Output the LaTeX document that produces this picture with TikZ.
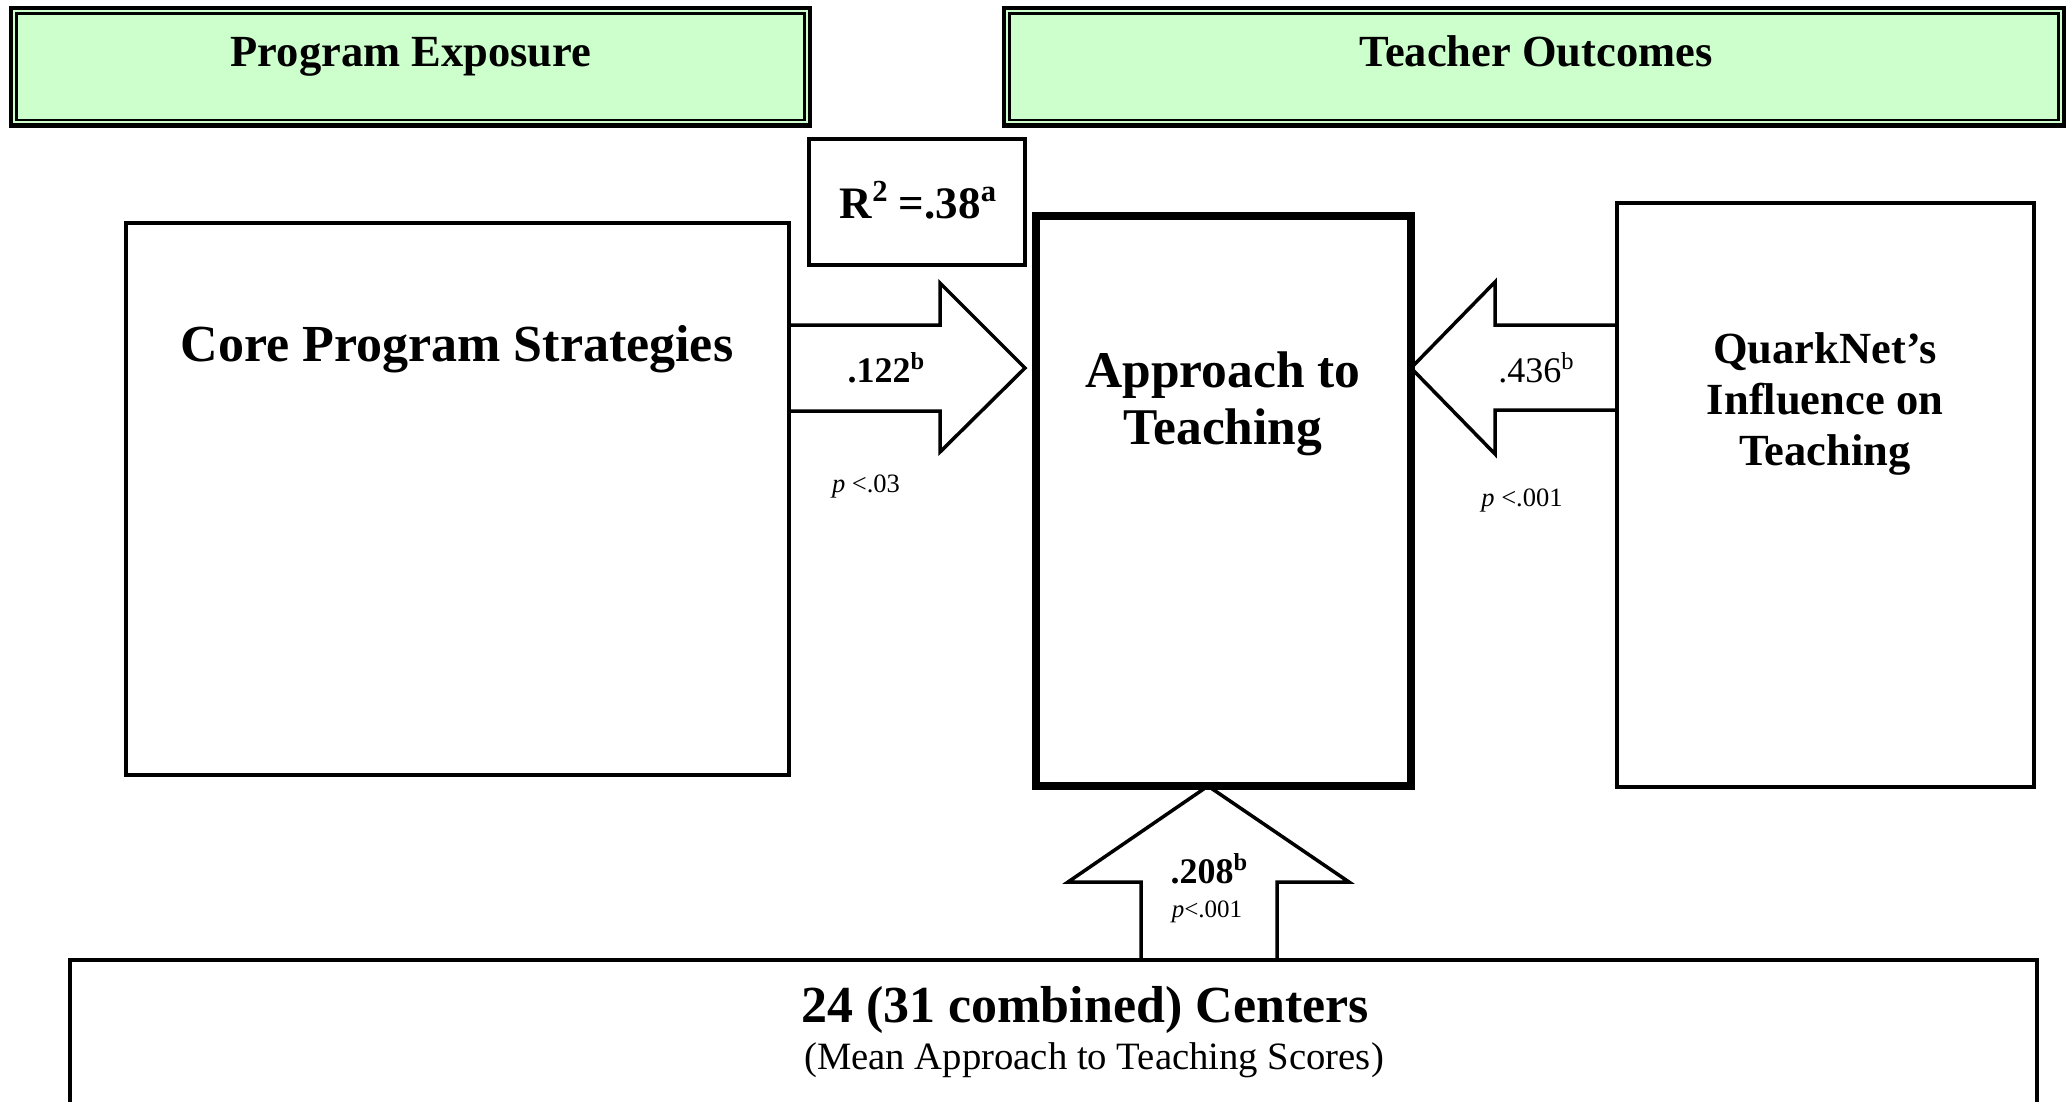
\documentclass[tikz,border=0pt]{standalone}
\usepackage{fontspec}
\setmainfont{Liberation Serif}
\usetikzlibrary{calc}
\definecolor{hdrgreen}{HTML}{CCFFCC}
\tikzset{
  box/.style={draw, rectangle, inner sep=0pt, outer sep=0pt, line width=3.5pt},
  hdrbox/.style={draw, rectangle, inner sep=0pt, outer sep=0pt, line width=4.5pt, fill=hdrgreen},
  hdrinner/.style={draw, line width=2.5pt},
  txt/.style={anchor=base, inner sep=0pt, outer sep=0pt, align=center},
  blockarrow/.style={draw, line width=3.5pt, line join=miter},
}
\newcommand{\fsz}[2]{\fontsize{#1}{#2}\selectfont}
\newcommand{\mysup}[1]{\raisebox{0.36em}{\scalebox{0.68}{#1}}}
\begin{document}
\begin{tikzpicture}[x=1pt,y=-1pt]
\useasboundingbox (0,0) rectangle (2067,1101);
\clip (0,0) rectangle (2067,1101);
\fill[white] (0,0) rectangle (2067,1101);

% header boxes
\node[hdrbox, minimum width=799pt, minimum height=117.5pt] (pe) at (410.5,66.75) {};
\draw[hdrinner] ([shift={(5.5,5.5)}]pe.north west) rectangle ([shift={(-5.5,-5.5)}]pe.south east);
\node[hdrbox, minimum width=1060pt, minimum height=117.5pt] (to) at (1534,66.75) {};
\draw[hdrinner] ([shift={(5.5,5.5)}]to.north west) rectangle ([shift={(-5.5,-5.5)}]to.south east);
\node[txt, font=\fsz{44.5}{48}\bfseries] (pet) at (411,66) {Program Exposure};
\node[txt, font=\fsz{44.5}{48}\bfseries] (tot) at (1536,66) {Teacher Outcomes};

% main boxes
\node[box, line width=4pt, minimum width=215.5pt, minimum height=126pt] (r2) at (916.75,202) {};
\node[box, minimum width=663pt, minimum height=552pt] (core) at (457.5,499) {};
\node[box, line width=8pt, minimum width=375pt, minimum height=570pt] (appr) at (1223.5,501) {};
\node[box, minimum width=417pt, minimum height=584pt] (qn) at (1825.5,495) {};
\node[box, minimum width=1967pt, minimum height=200pt] (ctr) at (1053.5,1060) {};

% texts
\node[txt, font=\fsz{45}{48}\bfseries] (r2t) at (918,218) {R\mysup{2} =.38\mysup{a}};
\node[txt, font=\fsz{52}{56}\bfseries] (coret) at (457,361) {Core Program Strategies};
\node[txt, font=\fsz{51.5}{57}\bfseries] (apprt) at (1223,444) {Approach to\\Teaching};
\node[txt, font=\fsz{44.5}{51}\bfseries] (qnt) at (1825,465) {QuarkNet’s\\Influence on\\Teaching};
\node[txt, font=\fsz{52}{56}\bfseries] (ctrt) at (1085,1022) {24 (31 combined) Centers};
\node[txt, font=\fsz{38.7}{42}] (ctrs) at (1094,1069) {(Mean Approach to Teaching Scores)};

% arrow 1: core -> approach
\coordinate (a1s1) at (core.east |- 0,325);
\coordinate (a1s2) at (core.east |- 0,411);
\coordinate (a1tip) at ($(appr.west |- 0,368)+(-11,0)$);
\draw[blockarrow] (a1s1) -- (940,325) -- (940,283) -- (a1tip) -- (940,452) -- (940,411) -- (a1s2);
\node[txt, font=\fsz{36}{40}\bfseries] (a1l) at (886,382) {.122\mysup{b}};
\node[txt, font=\fsz{26.5}{30}] (a1p) at (866,492) {\textit{p} <.03};

% arrow 2: quarknet -> approach
\coordinate (a2s1) at (qn.west |- 0,325);
\coordinate (a2s2) at (qn.west |- 0,410);
\coordinate (a2tip) at (appr.east |- 0,368);
\draw[blockarrow] (a2s1) -- (1495,325) -- (1495,282) -- (a2tip) -- (1495,454) -- (1495,410) -- (a2s2);
\node[txt, font=\fsz{36}{40}] (a2l) at (1536,382) {.436\mysup{b}};
\node[txt, font=\fsz{26.5}{30}] (a2p) at (1522,506) {\textit{p} <.001};

% arrow 3: centers -> approach
\coordinate (a3s1) at (1141,0 |- ctr.north);
\coordinate (a3s2) at (1277,0 |- ctr.north);
\coordinate (a3tip) at (1208,0 |- appr.south);
\draw[blockarrow] (a3s1) -- (1141,882) -- (1068,882) -- (a3tip) -- (1349,882) -- (1277,882) -- (a3s2);
\node[txt, font=\fsz{36}{40}\bfseries] (a3l) at (1209,883) {.208\mysup{b}};
\node[txt, font=\fsz{25}{28}] (a3p) at (1207,917) {\textit{p}<.001};
\end{tikzpicture}
\end{document}
